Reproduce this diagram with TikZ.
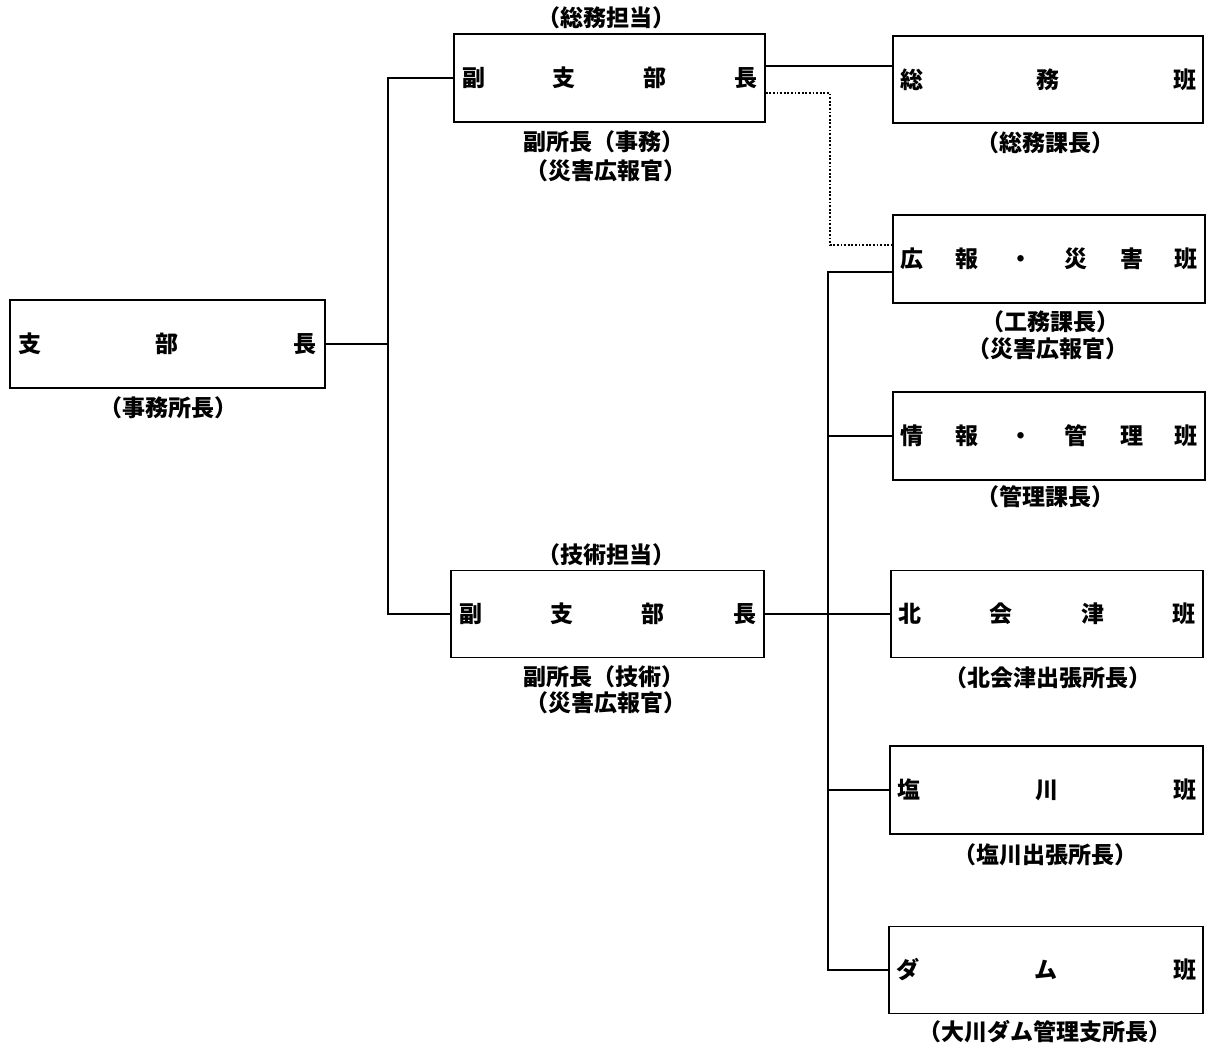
\documentclass[tikz,border=0pt]{standalone}
\usepackage{fontspec}
\newfontfamily\cjk{Noto Sans CJK JP}
\newcommand\distr[2]{\hbox to #1{#2}}
\tikzset{
  orgbox/.style={draw, line width=1.7pt, inner sep=0pt, font=\cjk\bfseries\fontsize{23}{25}\selectfont},
  lbl/.style={inner sep=0pt, font=\cjk\bfseries\fontsize{23}{25}\selectfont},
  conn/.style={line width=1.7pt},
  dotline/.style={line width=1.6pt, dash pattern=on 1.8pt off 1.8pt}
}
\begin{document}
\begin{tikzpicture}[x=1pt,y=-1pt]
\useasboundingbox (0,0) rectangle (1216,1050);
% boxes
\node[orgbox, minimum width=315pt, minimum height=88pt] (boss) at (167.5,344) {\distr{299pt}{支\hfill 部\hfill 長}};
\node[orgbox, minimum width=311pt, minimum height=88pt] (v1) at (609.5,78) {\distr{295pt}{副\hfill 支\hfill 部\hfill 長}};
\node[orgbox, minimum width=313pt, minimum height=87pt] (v2) at (607.5,614) {\distr{297pt}{副\hfill 支\hfill 部\hfill 長}};
\node[orgbox, minimum width=310pt, minimum height=87pt] (g1) at (1048,79.5) {\distr{296pt}{総\hfill 務\hfill 班}};
\node[orgbox, minimum width=312pt, minimum height=88pt] (g2) at (1049,259) {\distr{298pt}{広\hfill 報\hfill ・\hfill 災\hfill 害\hfill 班}};
\node[orgbox, minimum width=312pt, minimum height=88pt] (g3) at (1049,436) {\distr{298pt}{情\hfill 報\hfill ・\hfill 管\hfill 理\hfill 班}};
\node[orgbox, minimum width=312pt, minimum height=87pt] (g4) at (1047,614) {\distr{298pt}{北\hfill 会\hfill 津\hfill 班}};
\node[orgbox, minimum width=313pt, minimum height=88pt] (g5) at (1046.5,790) {\distr{299pt}{塩\hfill 川\hfill 班}};
\node[orgbox, minimum width=314pt, minimum height=87pt] (g6) at (1046,970) {\distr{300pt}{ダ\hfill ム\hfill 班}};
% labels
\node[lbl] (l0) at (168,408) {（事務所長）};
\node[lbl] (l1a) at (606,18) {（総務担当）};
\node[lbl] (l1b) at (604,142) {副所長（事務）};
\node[lbl] (l1c) at (606,171) {（災害広報官）};
\node[lbl] (l2a) at (606,555) {（技術担当）};
\node[lbl] (l2b) at (604,677) {副所長（技術）};
\node[lbl] (l2c) at (606,703) {（災害広報官）};
\node[lbl] (m1) at (1045,143) {（総務課長）};
\node[lbl] (m2a) at (1050,322) {（工務課長）};
\node[lbl] (m2b) at (1048,349) {（災害広報官）};
\node[lbl] (m3) at (1045,497) {（管理課長）};
\node[lbl] (m4) at (1048,678) {（北会津出張所長）};
\node[lbl] (m5) at (1045,855) {（塩川出張所長）};
\node[lbl] (m6) at (1045,1032) {（大川ダム管理支所長）};
% junction coordinates
\coordinate (trunk) at (388,0);
\coordinate (dotx) at (830,0);
\coordinate (bus) at (828,0);
% connectors
\draw[conn] (boss.east) -- (boss.east -| trunk);
\draw[conn] (v1.west) -- (v1.west -| trunk) -- (v2.west -| trunk) -- (v2.west);
\draw[conn] ([yshift=12pt]v1.east) -- ([yshift=12pt]v1.east -| g1.west);
\draw[dotline] ([yshift=-15pt]v1.east) -| ([yshift=14pt]g2.west -| dotx) -- ([yshift=14pt]g2.west);
\draw[conn] ([yshift=-13pt]g2.west) -| (bus |- g6.west) -- (g6.west);
\draw[conn] (g3.west) -- (g3.west -| bus);
\draw[conn] (g5.west) -- (g5.west -| bus);
\draw[conn] (v2.east) -- (g4.west);
\end{tikzpicture}
\end{document}
